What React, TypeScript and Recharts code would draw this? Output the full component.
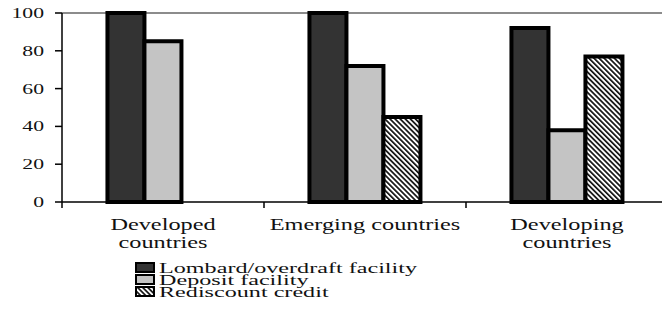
import { BarChart, Bar, XAxis, YAxis, CartesianGrid, Legend } from 'recharts';

const categories = ['Developed countries', 'Emerging countries', 'Developing countries'];
const categoryLines = [['Developed', 'countries'], ['Emerging countries'], ['Developing', 'countries']];
const seriesKeys = ['lombard', 'deposit', 'rediscount'];
const lombard = [100, 100, 92];
const deposit = [85, 72, 38];
const rediscount = [null, 45, 77];
const yTicks = [0, 20, 40, 60, 80, 100];

const textStyle = { fontFamily: "'Liberation Serif', 'DejaVu Serif', serif" };
const BAND = 202; // width of one category on the x axis

const data = categories.map((name, i) => ({
  name,
  lombard: lombard[i],
  deposit: deposit[i],
  rediscount: rediscount[i],
}));

function CategoryTick({ x, y, index }: any) {
  const lines = categoryLines[index] ?? [];
  return (
    <g>
      <line x1={x - BAND / 2} x2={x - BAND / 2} y1={y} y2={y + 6} stroke="#000" strokeWidth={1.5} />
      {lines.map((t, i) => (
        <text
          key={t}
          transform={`translate(${x},${y + 28 + i * 18}) scale(1.43,1)`}
          textAnchor="middle"
          style={textStyle}
          fontSize={17}
          fill="#111"
        >
          {t}
        </text>
      ))}
    </g>
  );
}

function ValueTick({ x, y, payload }: any) {
  return (
    <text
      transform={`translate(${x},${y}) scale(1.55,1)`}
      textAnchor="end"
      dy="0.36em"
      style={textStyle}
      fontSize={14}
      fill="#111"
    >
      {payload.value}
    </text>
  );
}

function StackLegend({ payload }: any) {
  // keep the series order instead of the legend's alphabetical sort
  const items = [...(payload ?? [])].sort(
    (a: any, b: any) => seriesKeys.indexOf(a.dataKey) - seriesKeys.indexOf(b.dataKey)
  );
  return (
    <svg width={460} height={45}>
      {items.map((entry: any, i: number) => (
        <g key={entry.value}>
          <rect x={136} y={5 + i * 12} width={18} height={9} fill={entry.color} stroke="#000" strokeWidth={2} />
          <text
            transform={`translate(159,${15 + i * 12}) scale(1.61,1)`}
            style={textStyle}
            fontSize={15}
            fill="#111"
          >
            {entry.value}
          </text>
        </g>
      ))}
    </svg>
  );
}

export default function App() {
  return (
    <div style={{ position: 'absolute', left: 0, top: 0, width: 662, height: 309, overflow: 'hidden', background: '#fff' }}>
      <BarChart
        width={668}
        height={309}
        data={data}
        margin={{ top: 13, right: 0, left: 0, bottom: 7 }}
        barCategoryGap="22.5%"
        barGap={0}
      >
        <defs>
          <pattern id="rediscount" patternUnits="userSpaceOnUse" width={3.6} height={3.6} patternTransform="rotate(-45)">
            <rect width={3.6} height={3.6} fill="#fff" />
            <rect width={1.7} height={3.6} fill="#111" />
          </pattern>
        </defs>
        <CartesianGrid vertical={false} horizontalValues={[100]} stroke="#8c8c8c" strokeWidth={2} />
        <XAxis
          dataKey="name"
          height={55}
          tickLine={false}
          tickSize={0}
          tickMargin={0}
          axisLine={{ stroke: '#000', strokeWidth: 1.5 }}
          tick={<CategoryTick />}
          interval={0}
        />
        <YAxis
          width={62}
          domain={[0, 100]}
          ticks={yTicks}
          tickSize={7}
          tickMargin={11}
          axisLine={{ stroke: '#000', strokeWidth: 1.5 }}
          tickLine={{ stroke: '#000', strokeWidth: 1.5 }}
          tick={<ValueTick />}
        />
        <Legend
          verticalAlign="bottom"
          content={<StackLegend />}
          wrapperStyle={{ position: 'absolute', left: 0, top: 258, bottom: 'auto', width: 460, height: 45 }}
        />
        <Bar dataKey="lombard" name="Lombard/overdraft facility" fill="#333333" stroke="#000" strokeWidth={4} isAnimationActive={false} />
        <Bar dataKey="deposit" name="Deposit facility" fill="#c4c4c4" stroke="#000" strokeWidth={4} isAnimationActive={false} />
        <Bar dataKey="rediscount" name="Rediscount credit" fill="url(#rediscount)" stroke="#000" strokeWidth={4} isAnimationActive={false} />
      </BarChart>
    </div>
  );
}
